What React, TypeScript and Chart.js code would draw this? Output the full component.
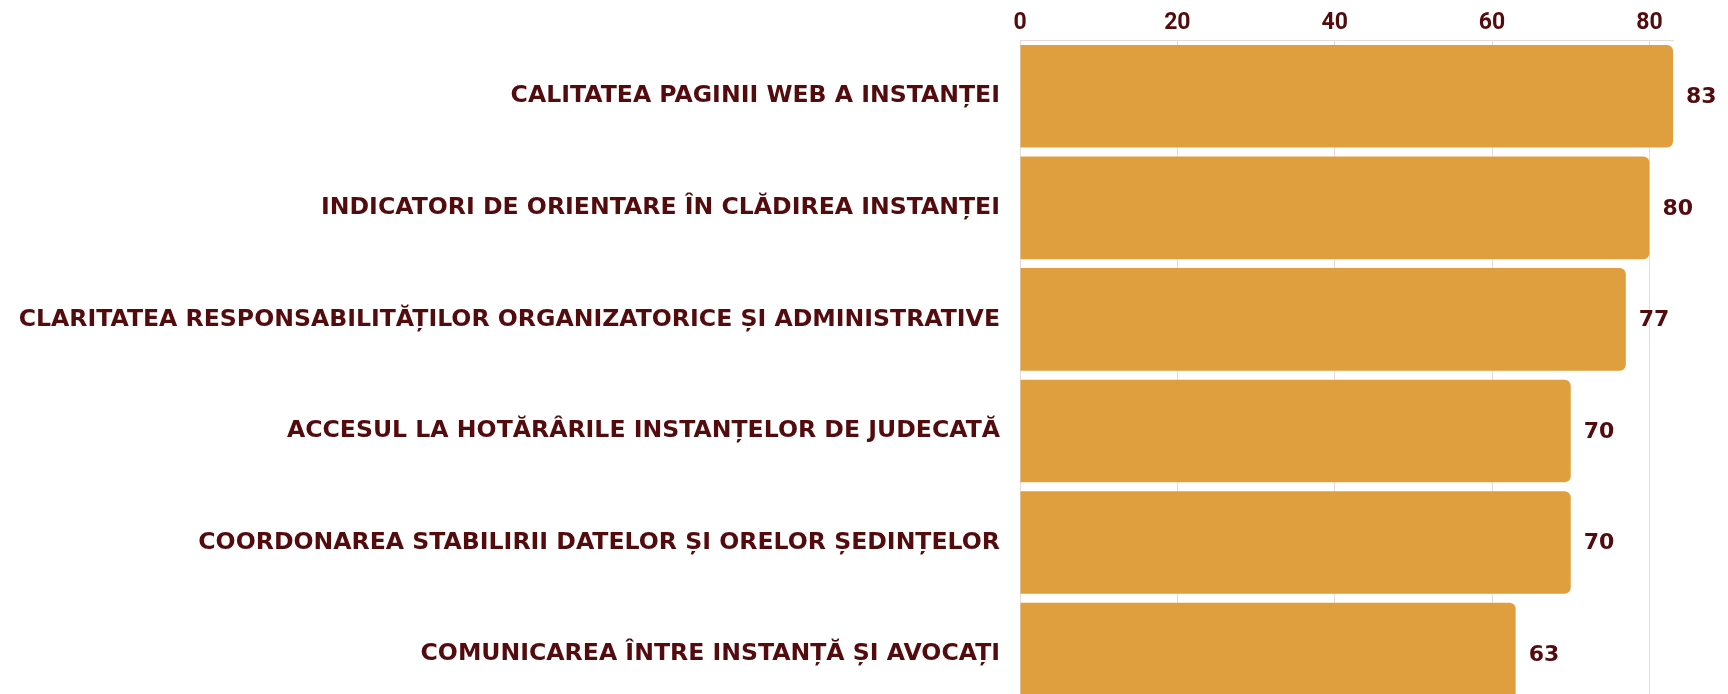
import React, { useEffect, useRef } from "react";
import { Chart, registerables } from "chart.js";

Chart.register(...registerables);

const categories: string[] = [
  "CALITATEA PAGINII WEB A INSTANȚEI",
  "INDICATORI DE ORIENTARE ÎN CLĂDIREA INSTANȚEI",
  "CLARITATEA RESPONSABILITĂȚILOR ORGANIZATORICE ȘI ADMINISTRATIVE",
  "ACCESUL LA HOTĂRÂRILE INSTANȚELOR DE JUDECATĂ",
  "COORDONAREA STABILIRII DATELOR ȘI ORELOR ȘEDINȚELOR",
  "COMUNICAREA ÎNTRE INSTANȚĂ ȘI AVOCAȚI",
];
const values: number[] = [83, 80, 77, 70, 70, 63];
const xMin = 0;
const xMax = 83;
const xStep = 20;

const TEXT = "#540B0E";
const BAR = "#E09F3E";
const GRID = "rgba(84,11,14,0.15)";

const valueLabels = {
  id: "valueLabels",
  afterDatasetsDraw(chart: any) {
    const ctx = chart.ctx;
    const meta = chart.getDatasetMeta(0);
    ctx.save();
    ctx.font = "bold 22px 'DejaVu Sans'";
    ctx.fillStyle = TEXT;
    ctx.textAlign = "left";
    ctx.textBaseline = "middle";
    meta.data.forEach((el: any, i: number) => {
      ctx.fillText(String(values[i]), el.x + 13, el.y + 1);
    });
    ctx.restore();
  },
};

export default function App() {
  const ref = useRef<HTMLCanvasElement | null>(null);
  useEffect(() => {
    if (!ref.current) return;
    const chart = new Chart(ref.current, {
      type: "bar",
      data: {
        labels: categories,
        datasets: [
          {
            data: values,
            backgroundColor: BAR,
            borderRadius: 6,
            borderSkipped: "start",
            barPercentage: 0.92,
            categoryPercentage: 1,
          },
        ],
      },
      options: {
        indexAxis: "y",
        responsive: false,
        animation: false,
        layout: { padding: { top: 0, right: 55, bottom: 0, left: 0 } },
        plugins: { legend: { display: false }, tooltip: { enabled: false } },
        scales: {
          x: {
            position: "top",
            min: xMin,
            max: xMax,
            grid: { color: GRID, drawTicks: false, lineWidth: 1 },
            border: { display: true, color: GRID },
            ticks: {
              stepSize: xStep,
              includeBounds: false,
              color: TEXT,
              padding: 3,
              font: { family: "Roboto", weight: "bold", size: 23 },
            },
            afterFit: (scale: any) => {
              scale.height = 40.5;
            },
          },
          y: {
            grid: { display: false },
            border: { display: false },
            ticks: {
              color: TEXT,
              padding: 12,
              font: { family: "'DejaVu Sans'", weight: "bold", size: 23.6 },
            },
            afterFit: (scale: any) => {
              scale.width = 1020;
            },
          },
        },
      },
      plugins: [valueLabels],
    } as any);
    return () => chart.destroy();
  }, []);
  return (
    <canvas
      ref={ref}
      width={1728}
      height={736}
      style={{ position: "fixed", left: 0, top: 0, width: 1728, height: 736, background: "#fff" }}
    />
  );
}
